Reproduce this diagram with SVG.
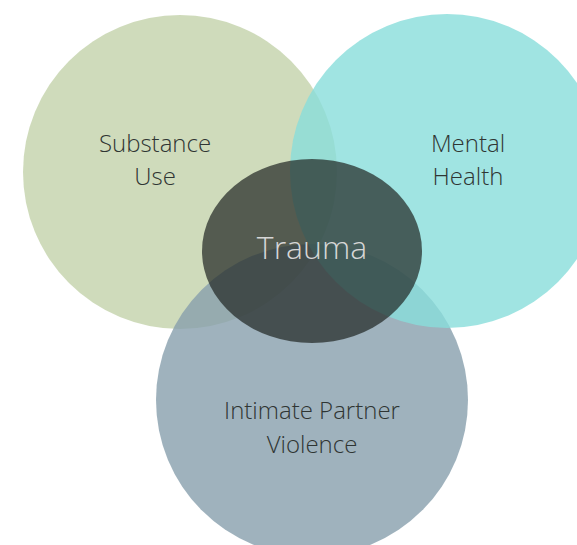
<svg xmlns="http://www.w3.org/2000/svg" width="577" height="545" viewBox="0 0 577 545">
  <style>
    .c { opacity: 0.8; }
    .lbl { font-family: "Open Sans", "Liberation Sans", sans-serif; font-size: 24px; font-weight: 300; fill: #2f3533; text-anchor: middle; }
    .core { font-family: "Open Sans", "Liberation Sans", sans-serif; font-size: 32px; font-weight: 300; fill: #d6d6d6; text-anchor: middle; }
  </style>
  <rect width="577" height="545" fill="#ffffff"/>
  <g id="substance-use">
    <circle class="c" cx="180" cy="172" r="157" fill="#c3d2aa"/>
    <text class="lbl" x="155" y="152">Substance</text>
    <text class="lbl" x="155" y="185">Use</text>
  </g>
  <g id="intimate-partner-violence">
    <circle class="c" cx="312" cy="400" r="156" fill="#879fac"/>
    <text class="lbl" x="312" y="419">Intimate Partner</text>
    <text class="lbl" x="312" y="453">Violence</text>
  </g>
  <g id="mental-health">
    <circle class="c" cx="447" cy="171" r="157" fill="#88dddb"/>
    <text class="lbl" x="468" y="152">Mental</text>
    <text class="lbl" x="468" y="185">Health</text>
  </g>
  <g id="trauma">
    <ellipse cx="312" cy="251" rx="110" ry="92" fill="#1f2522" opacity="0.7"/>
    <text class="core" x="312" y="259">Trauma</text>
  </g>
</svg>
